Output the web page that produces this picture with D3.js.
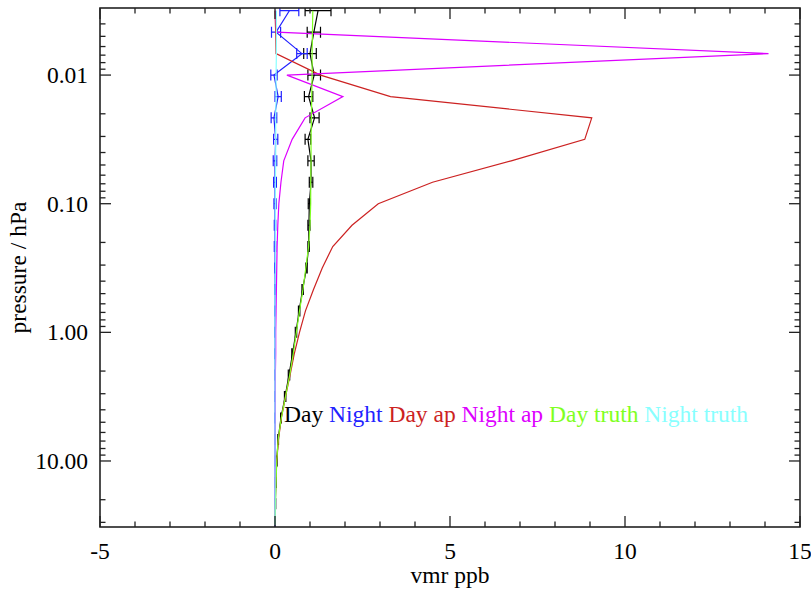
<!DOCTYPE html>
<html>
<head>
<meta charset="utf-8">
<script src="https://cdn.jsdelivr.net/npm/d3@7"></script>
</head>
<body style="margin:0">
<div id="chart"></div>
<script>
// pressure levels (hPa)
const pressure = [0.00316, 0.00464, 0.00681, 0.01, 0.0147, 0.0215, 0.0316, 0.0464, 0.0681, 0.1,
  0.147, 0.215, 0.316, 0.464, 0.681, 1.0, 1.47, 2.15, 3.16, 4.64, 6.81, 10.0, 14.7, 21.5, 31.6];

// vmr ppb
const dayRet = [1.23, 1.11, 1.0, 1.12, 0.96, 1.13, 0.94, 1.03, 1.03, 0.98, 0.97, 0.96, 0.9, 0.79,
  0.69, 0.6, 0.5, 0.4, 0.29, 0.17, 0.09, 0.05, 0.02, 0.01, 0.0];
const dayErr = [0.37, 0.19, 0.18, 0.18, 0.12, 0.13, 0.08, 0.09, 0.05, 0.03, 0.03, 0.02, 0.02, 0.02,
  0.02, 0.02, 0.02, 0.02, 0.02, 0.01, 0.01, 0.01, 0.01, 0.01, 0.0];
const nightRet = [0.41, 0.03, 0.77, -0.03, 0.09, -0.03, 0.02, 0.0, 0.0, 0.0, 0.0, 0.0, 0.0, 0.0,
  0.0, 0.0, 0.0, 0.0, 0.0, 0.0, 0.0, 0.0, 0.0, 0.0, 0.0];
const nightErr = [0.27, 0.13, 0.15, 0.09, 0.09, 0.08, 0.06, 0.05, 0.04, 0.03, 0.02, 0.02, 0.01, 0.01,
  0.01, 0.01, 0.01, 0.01, 0.01, 0.01, 0.0, 0.0, 0.0, 0.0, 0.0];
const dayAp = [0.0, 0.02, 0.03, 1.3, 3.3, 9.05, 8.85, 6.75, 4.5, 2.95, 2.2, 1.65, 1.35, 1.1,
  0.87, 0.7, 0.55, 0.43, 0.3, 0.18, 0.1, 0.05, 0.02, 0.01, 0.0];
const nightAp = [0.02, 0.05, 14.1, 0.34, 1.94, 0.86, 0.49, 0.25, 0.17, 0.11, 0.08, 0.06, 0.05, 0.04,
  0.03, 0.02, 0.02, 0.01, 0.01, 0.01, 0.0, 0.0, 0.0, 0.0, 0.0];
const dayTruth = [1.08, 1.07, 1.06, 1.06, 1.05, 1.04, 1.03, 1.03, 1.02, 1.02, 1.0, 0.96, 0.88, 0.8,
  0.7, 0.61, 0.52, 0.42, 0.3, 0.18, 0.09, 0.05, 0.03, 0.01, 0.0];
const nightTruth = [0.04, 0.04, 0.04, 0.03, 0.03, 0.02, 0.02, 0.02, 0.01, 0.01, 0.01, 0.01, 0.01, 0.0,
  0.0, 0.0, 0.0, 0.0, 0.0, 0.0, 0.0, 0.0, 0.0, 0.0, 0.0];

const legendNames = ["Day", "Night", "Day ap", "Night ap", "Day truth", "Night truth"];
const colors = ["#000000", "#2222ff", "#cc2222", "#dd00ff", "#80ff22", "#88ffff"];

const xTicks = [-5, 0, 5, 10, 15];
const yTicks = [0.01, 0.1, 1, 10];
const yTickLabels = ["0.01", "0.10", "1.00", "10.00"];

const width = 811, height = 591;
const margin = { top: 8, right: 11, bottom: 64, left: 100 };
const font = "'Liberation Serif'";
const fontSize = 23.5;

const svg = d3.select("#chart").append("svg")
  .attr("width", width).attr("height", height);

const x = d3.scaleLinear().domain([-5, 15]).range([margin.left, width - margin.right]);
const y = d3.scaleLog().domain([0.00301, 32.6]).range([margin.top, height - margin.bottom]);

svg.append("defs").append("clipPath").attr("id", "plot-clip")
  .append("rect")
  .attr("x", margin.left).attr("y", margin.top)
  .attr("width", width - margin.left - margin.right)
  .attr("height", height - margin.top - margin.bottom);

const g = svg.append("g").attr("clip-path", "url(#plot-clip)");

const line = d3.line()
  .x(d => x(d[0]))
  .y(d => y(d[1]));

const series = [dayRet, nightRet, dayAp, nightAp, dayTruth, nightTruth];

// error bars for the two retrievals
const drawErrors = (vals, errs, color) => {
  const eg = g.append("g").attr("stroke", color).attr("stroke-width", 1.2).attr("fill", "none");
  vals.forEach((v, i) => {
    const py = y(pressure[i]);
    const x0 = x(v - errs[i]), x1 = x(v + errs[i]);
    const p = d3.path();
    p.moveTo(x0, py); p.lineTo(x1, py);
    p.moveTo(x0, py - 5.5); p.lineTo(x0, py + 5.5);
    p.moveTo(x1, py - 5.5); p.lineTo(x1, py + 5.5);
    eg.append("path").attr("d", p.toString());
  });
};

series.forEach((vals, si) => {
  g.append("path")
    .datum(vals.map((v, i) => [v, pressure[i]]))
    .attr("fill", "none")
    .attr("stroke", colors[si])
    .attr("stroke-width", 1.2)
    .attr("d", line);
  if (si === 0) drawErrors(dayRet, dayErr, colors[0]);
  if (si === 1) drawErrors(nightRet, nightErr, colors[1]);
});

// axes
const axisColor = "#222";
const plotW = width - margin.left - margin.right;
const plotH = height - margin.top - margin.bottom;

const minorX = d3.range(-5, 15.01, 1);
const minorY = [];
[0.001, 0.01, 0.1, 1, 10].forEach(dec => {
  for (let m = 1; m < 10; m++) {
    const v = dec * m;
    if (v >= 0.00301 && v <= 32.6) minorY.push(v);
  }
});

const ax = svg.append("g").attr("stroke", axisColor).attr("stroke-width", 1.3);

ax.append("rect")
  .attr("x", margin.left).attr("y", margin.top)
  .attr("width", plotW).attr("height", plotH)
  .attr("fill", "none").attr("stroke-width", 1.6);

minorX.forEach(v => {
  const len = xTicks.includes(v) ? 11 : 5.5;
  const px = x(v);
  ax.append("line").attr("x1", px).attr("x2", px)
    .attr("y1", height - margin.bottom).attr("y2", height - margin.bottom - len);
  ax.append("line").attr("x1", px).attr("x2", px)
    .attr("y1", margin.top).attr("y2", margin.top + len);
});

minorY.forEach(v => {
  const major = yTicks.some(t => Math.abs(t - v) / t < 1e-6);
  const len = major ? 11 : 5.5;
  const py = y(v);
  ax.append("line").attr("x1", margin.left).attr("x2", margin.left + len)
    .attr("y1", py).attr("y2", py);
  ax.append("line").attr("x1", width - margin.right).attr("x2", width - margin.right - len)
    .attr("y1", py).attr("y2", py);
});

svg.append("g").selectAll("text")
  .data(xTicks)
  .enter()
  .append("text")
  .attr("font-family", font)
  .attr("x", d => x(d))
  .attr("y", 559)
  .attr("text-anchor", "middle")
  .attr("font-size", fontSize)
  .attr("fill", "#000")
  .text(d => d);

svg.append("g").selectAll("text")
  .data(yTicks)
  .enter()
  .append("text")
  .attr("font-family", font)
  .attr("x", margin.left - 12)
  .attr("y", d => y(d) + 8)
  .attr("text-anchor", "end")
  .attr("font-size", fontSize)
  .attr("fill", "#000")
  .text((d, i) => yTickLabels[i]);

svg.append("text")
  .attr("font-family", font)
  .attr("x", x(5))
  .attr("y", 583)
  .attr("text-anchor", "middle")
  .attr("font-size", fontSize)
  .text("vmr ppb");

svg.append("text")
  .attr("font-family", font)
  .attr("transform", `translate(26, ${y(Math.sqrt(0.00301 * 32.6))}) rotate(-90)`)
  .attr("text-anchor", "middle")
  .attr("font-size", fontSize)
  .text("pressure / hPa");

// legend
const legend = svg.append("text")
  .attr("font-family", font)
  .attr("x", 284)
  .attr("y", 422)
  .attr("font-size", fontSize);
legendNames.forEach((name, i) => {
  legend.append("tspan")
    .attr("fill", colors[i])
    .text((i ? " " : "") + name);
});
</script>
</body>
</html>
